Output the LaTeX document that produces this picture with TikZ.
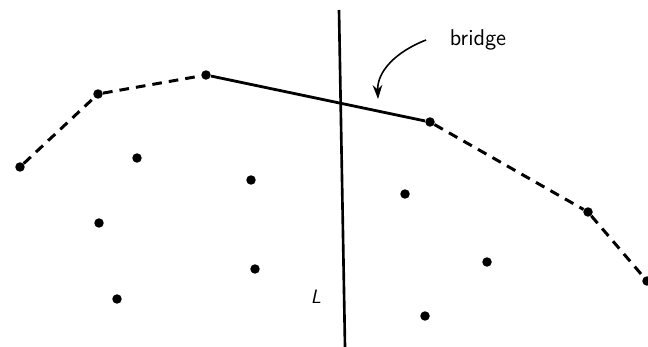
\documentclass[tikz,border=0pt]{standalone}
\usepackage{tikz}
\usetikzlibrary{arrows.meta}
\tikzset{
    pt/.style={circle, fill=black, inner sep=0pt, minimum size=5.4pt},
    hull/.style={line width=1.7pt, dash pattern=on 5.5pt off 4pt},
    bridgeline/.style={line width=1.6pt},
    cutline/.style={line width=1.5pt},
    pointer/.style={line width=0.9pt, -{Stealth[length=8pt,width=5.5pt]}}
}
\begin{document}
\begin{tikzpicture}[x=0.02cm, y=-0.02cm]
    \useasboundingbox (0,0) rectangle (648,347);
    % hull points
    \node (h1) [pt] at (20,167) {};
    \node (h2) [pt] at (98,94) {};
    \node (h3) [pt] at (206,75) {};
    \node (h4) [pt] at (430,122) {};
    \node (h5) [pt] at (588,212) {};
    \node (h6) [pt] at (647,281) {};
    % inner points
    \node (p1) [pt] at (137,158) {};
    \node (p2) [pt] at (251,180) {};
    \node (p3) [pt] at (99,223) {};
    \node (p4) [pt] at (255,269) {};
    \node (p5) [pt] at (117,299) {};
    \node (p6) [pt] at (405,194) {};
    \node (p7) [pt] at (487,262) {};
    \node (p8) [pt] at (425,316) {};
    % dividing line
    \coordinate (ltop) at (339,10);
    \coordinate (lbot) at (345,347);
    \draw [cutline] (ltop) -- (lbot);
    \node (lab) [font=\sffamily\itshape\fontsize{11}{13}\selectfont] at (316,297) {L};

    \draw [hull] (h1) -- (h2) -- (h3);
    \draw [hull] (h4) -- (h5) -- (h6);
    \draw [bridgeline] (h3) -- (h4);

    \node (brg) [font=\sffamily\fontsize{13}{15}\selectfont] at (478,40) {bridge};
    \coordinate (tip) at (378,99);
    \draw [pointer] ([xshift=-10]brg.west) .. controls (395,52) and (377,72) .. (tip);
\end{tikzpicture}
\end{document}
